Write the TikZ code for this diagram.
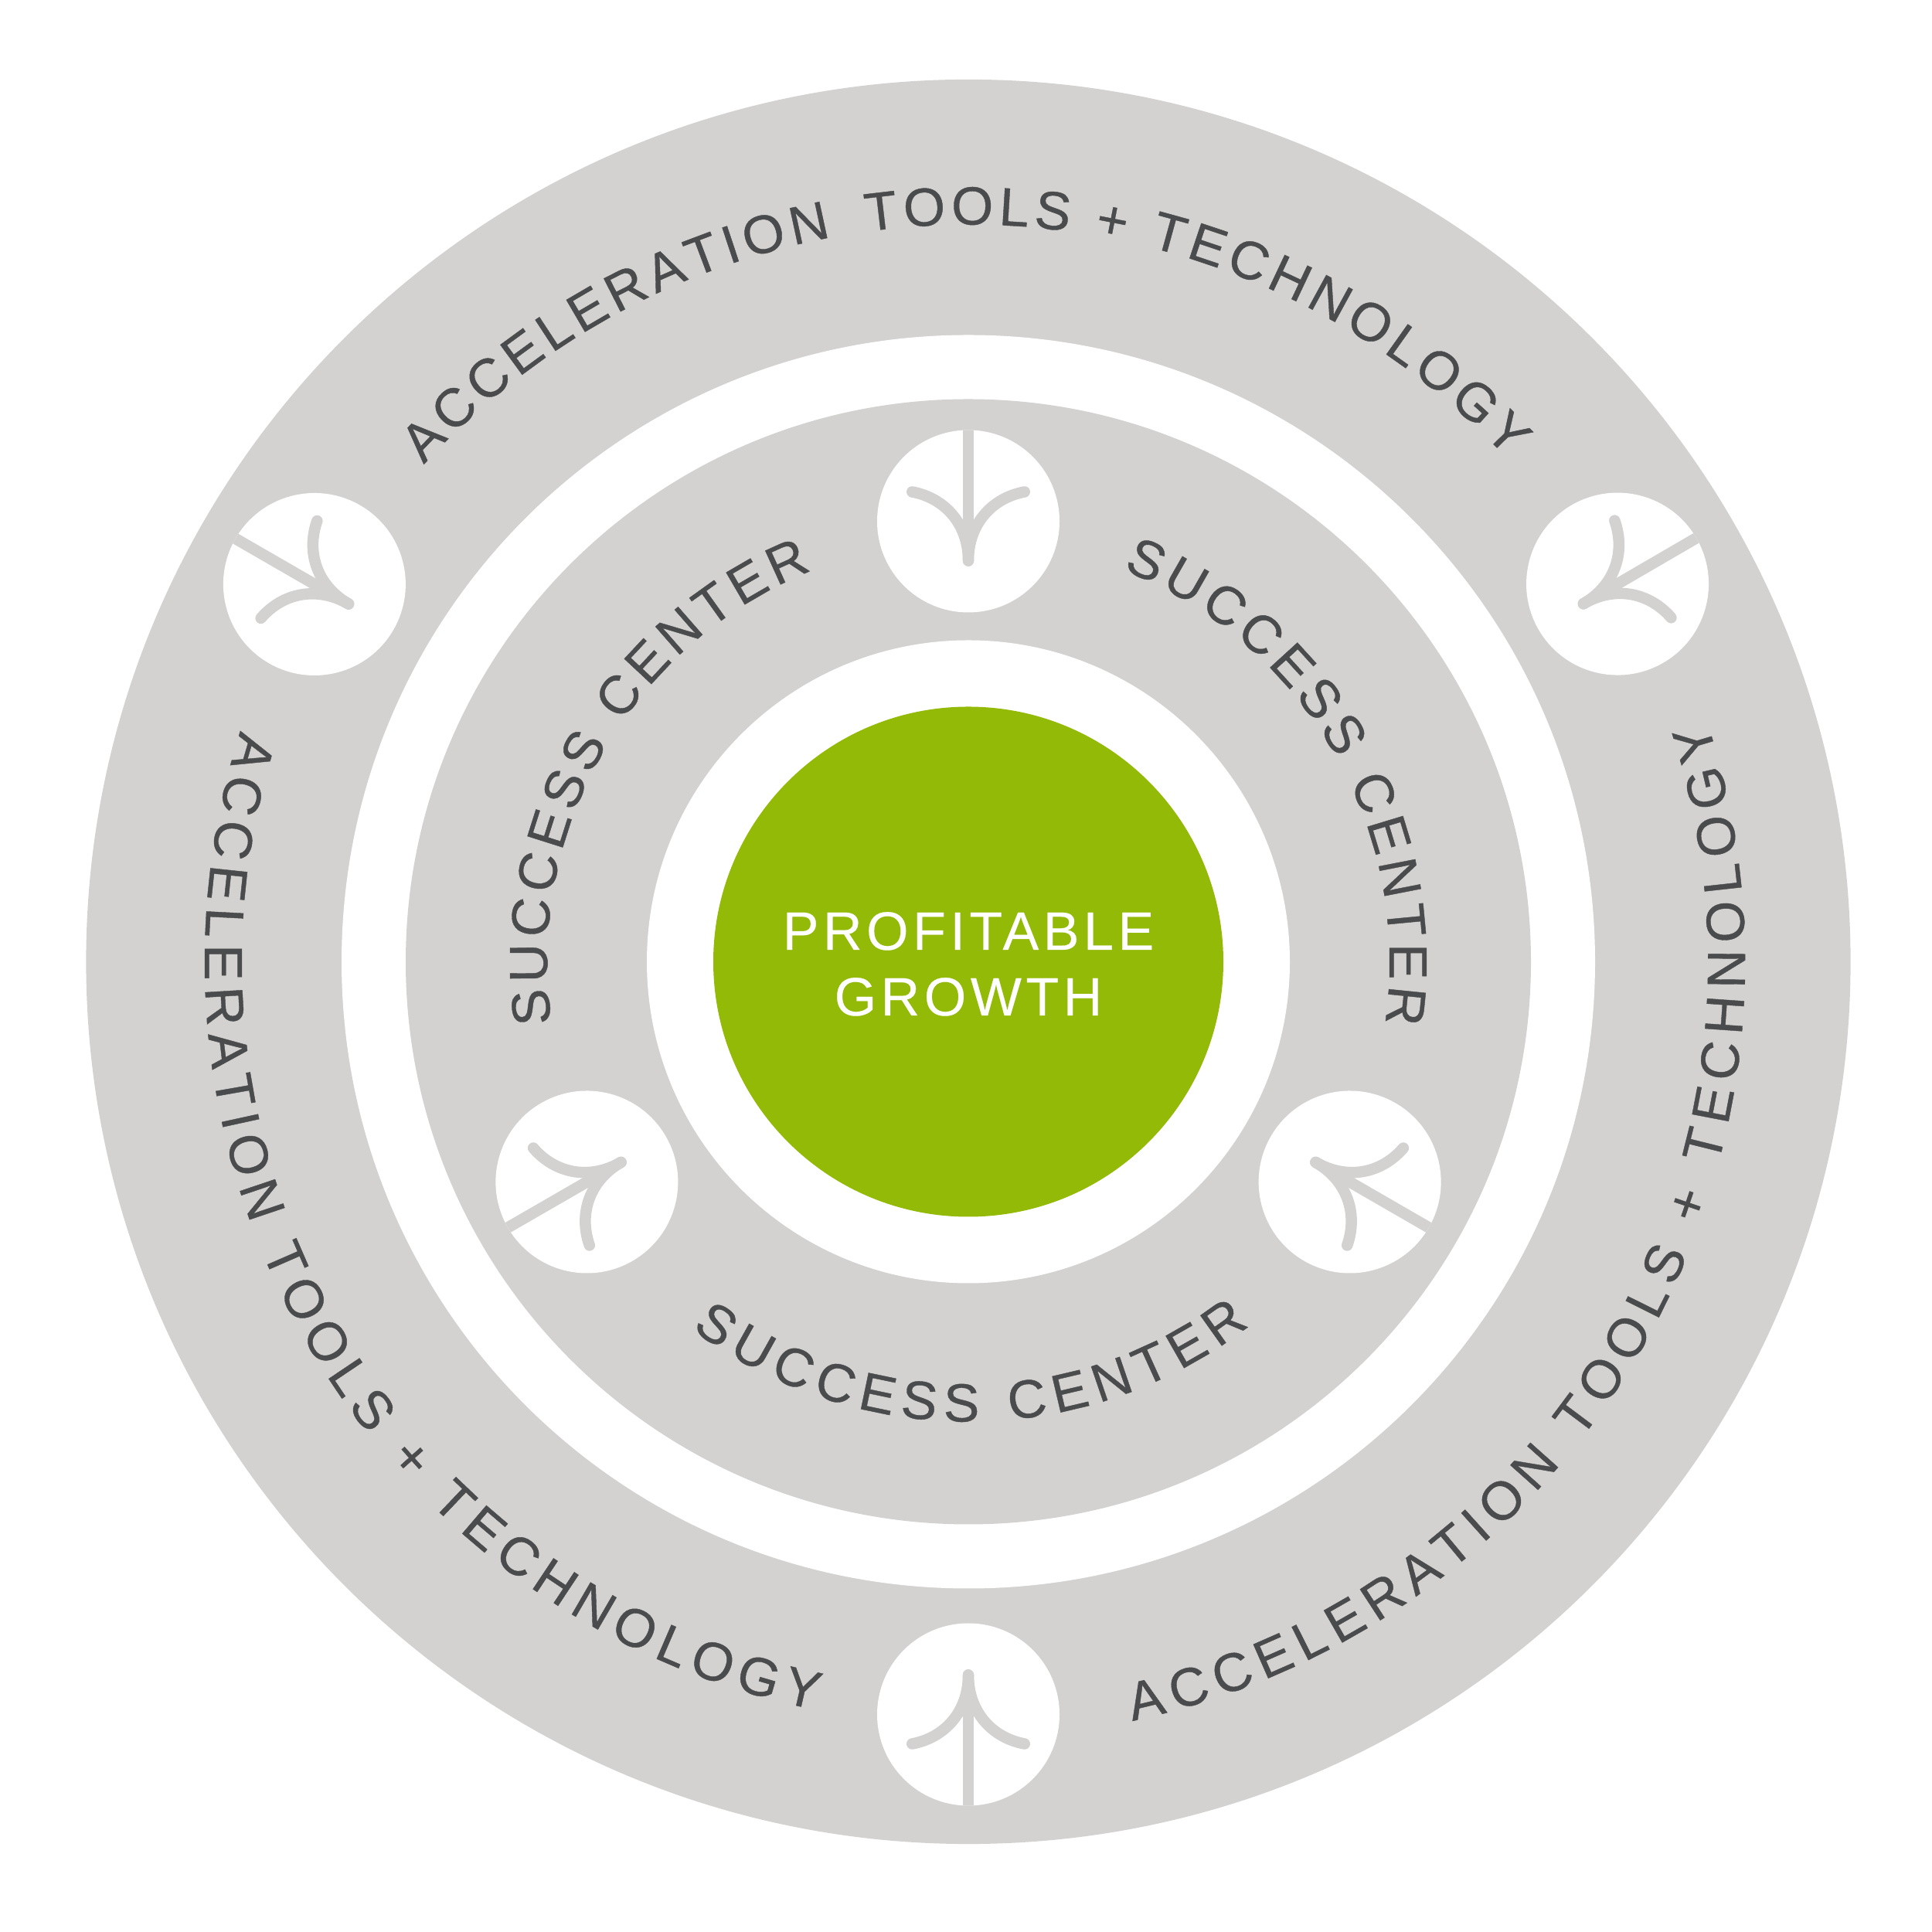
\documentclass[tikz,border=0pt]{standalone}
\usepackage{fontspec}
\usetikzlibrary{decorations.text}
\setmainfont{Liberation Sans}
\newfontfamily\centerfont[LetterSpace=8,FakeBold=0.3]{Liberation Sans}
\newfontfamily\arcfont[FakeBold=0.6]{Liberation Sans}
\definecolor{ringgrey}{HTML}{D3D2D0}
\definecolor{inkgrey}{HTML}{4A4B4D}
\definecolor{leaf}{HTML}{94BA08}
\newcommand{\arcfmt}{\color{inkgrey}\arcfont\fontsize{19.8pt}{24pt}\selectfont}
\tikzset{
  ring/.style={fill=#1,draw=none},
  iconline/.style={draw=ringgrey,line width=1.45mm,line cap=round},
  arctext/.style={decorate,decoration={text along path,text align={fit to path},
    text={|\arcfmt|#1}}},
  centertext/.style={text=white,inner sep=0pt,anchor=base,font=\centerfont\fontsize{19.9pt}{24pt}\selectfont},
}
% icon: angle, radius
\newcommand{\plantmark}[2]{%
  \begin{scope}[shift={(#1:#2)},rotate=#1-90]
    \fill[white] (0,0) circle (1.18);
    \begin{scope}
    \clip (0,0) circle (1.18);
    \draw[iconline] (0,-0.51) -- (0,1.3);
    \end{scope}
    \draw[iconline] (-0.727,0.38) .. controls (-0.30,0.30) and (0,-0.04) .. (0,-0.51);
    \draw[iconline] (0.727,0.38) .. controls (0.30,0.30) and (0,-0.04) .. (0,-0.51);
  \end{scope}}
\newcommand{\arctxt}[4]{%
  \path[arctext={#4}] (#1:#2) arc[start angle=#1,end angle=#3,radius=#2];}
\begin{document}
\begin{tikzpicture}
\useasboundingbox (0,0) rectangle (25,25);
\begin{scope}[shift={(12.53,12.555)}]
  \fill[ring=ringgrey] (0,0) circle (11.416);
  \fill[ring=white] (0,0) circle (8.11);
  \fill[ring=ringgrey] (0,0) circle (7.28);
  \fill[ring=white] (0,0) circle (4.16);
  \fill[ring=leaf] (0,0) circle (3.30);
  \plantmark{90}{5.70}
  \plantmark{210}{5.70}
  \plantmark{330}{5.70}
  \plantmark{150}{9.77}
  \plantmark{30.2}{9.72}
  \plantmark{270}{9.74}
  \arctxt{137.6}{9.54}{43}{ACCELERATION{\kern0.1em} TOOLS + TECHNOLOGY}
  \arctxt{-77.8}{10.05}{18}{ACCELERATION TOOLS + TECHNOLOGY}
  \arctxt{162.4}{9.88}{258.5}{ACCELERATION TOOLS + TECHNOLOGY}
  \arctxt{188.4}{5.45}{111.8}{SUCCESS CENTER}
  \arctxt{68.5}{5.45}{-8.4}{SUCCESS CENTER}
  \arctxt{-127}{5.95}{-52.3}{SUCCESS CENTER}
  \node[centertext] (line1) at (0,0.155) {PROFITABLE};
  \node[centertext] (line2) at (0,-0.695) {GROWTH};
\end{scope}
\end{tikzpicture}
\end{document}
